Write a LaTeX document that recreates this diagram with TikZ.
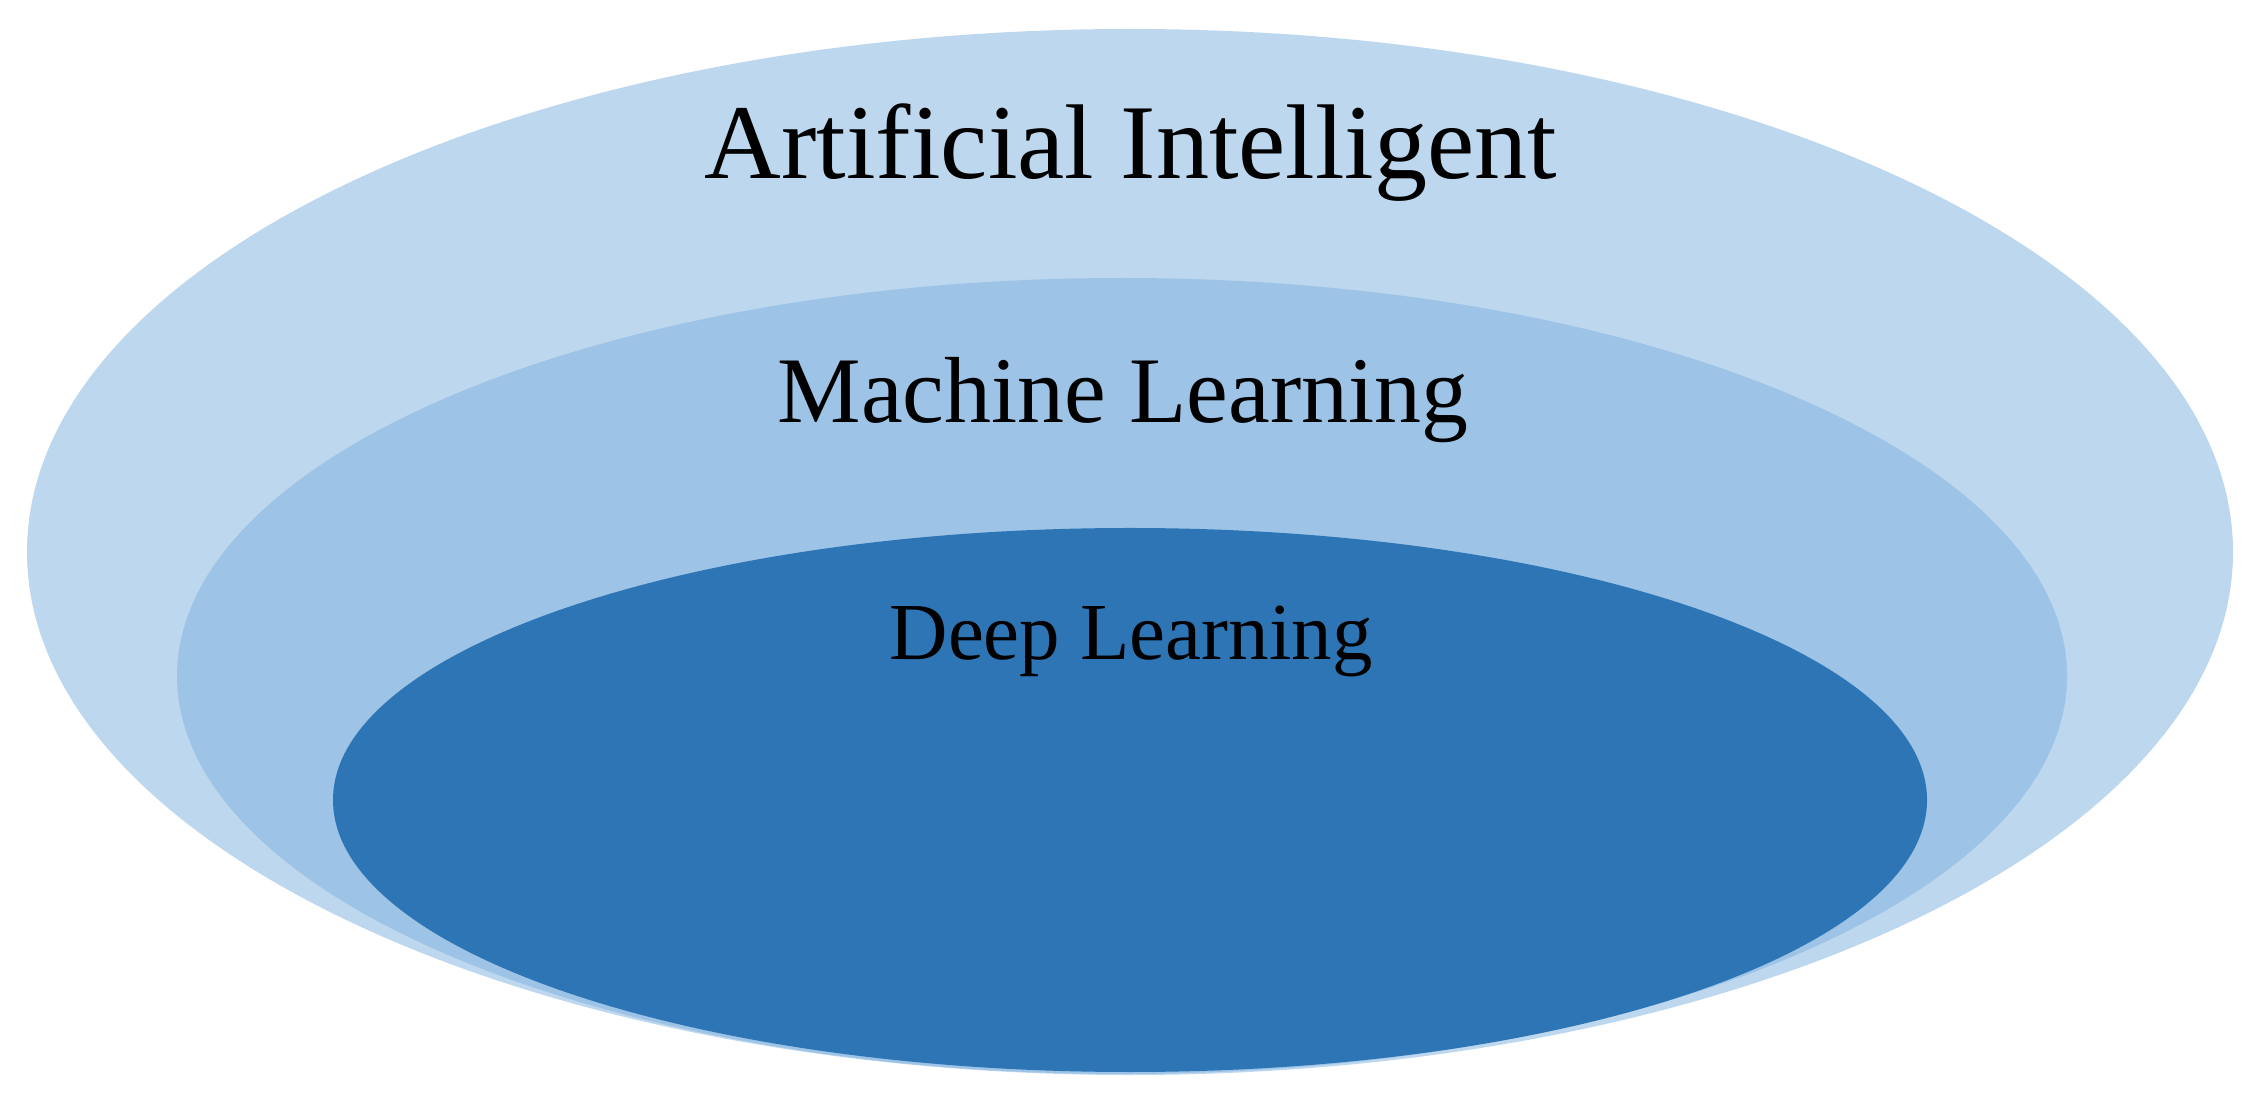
\documentclass[tikz,border=0pt]{standalone}
\usepackage{fontspec}
\setmainfont{Liberation Serif}
\definecolor{aiblue}{HTML}{BDD7EE}
\definecolor{mlblue}{HTML}{9DC3E6}
\definecolor{dlblue}{HTML}{2E75B6}
\begin{document}
\begin{tikzpicture}[x=0.01cm,y=-0.01cm,
	label/.style={anchor=base,inner sep=0pt,text=black}]
	\useasboundingbox (0,0) rectangle (2255,1104);
	
	\begin{scope}
		\fill[color=aiblue] (1130,552) ellipse [x radius=1103, y radius=523];
		\fill[color=mlblue] (1122,676) ellipse [x radius=945, y radius=398];
		\fill[color=dlblue] (1130,800) ellipse [x radius=797, y radius=272];
	\end{scope}
	
	
	\begin{scope}
		\node[label,font=\fontsize{30.2}{36}\selectfont] (ai) at (1131,179) {Artificial Intelligent};
		\node[label,font=\fontsize{26.7}{32}\selectfont] (ml) at (1123,423) {Machine Learning};
		\node[label,font=\fontsize{23}{28}\selectfont] (dl) at (1131,660) {Deep Learning};
	\end{scope}
\end{tikzpicture}
\end{document}
